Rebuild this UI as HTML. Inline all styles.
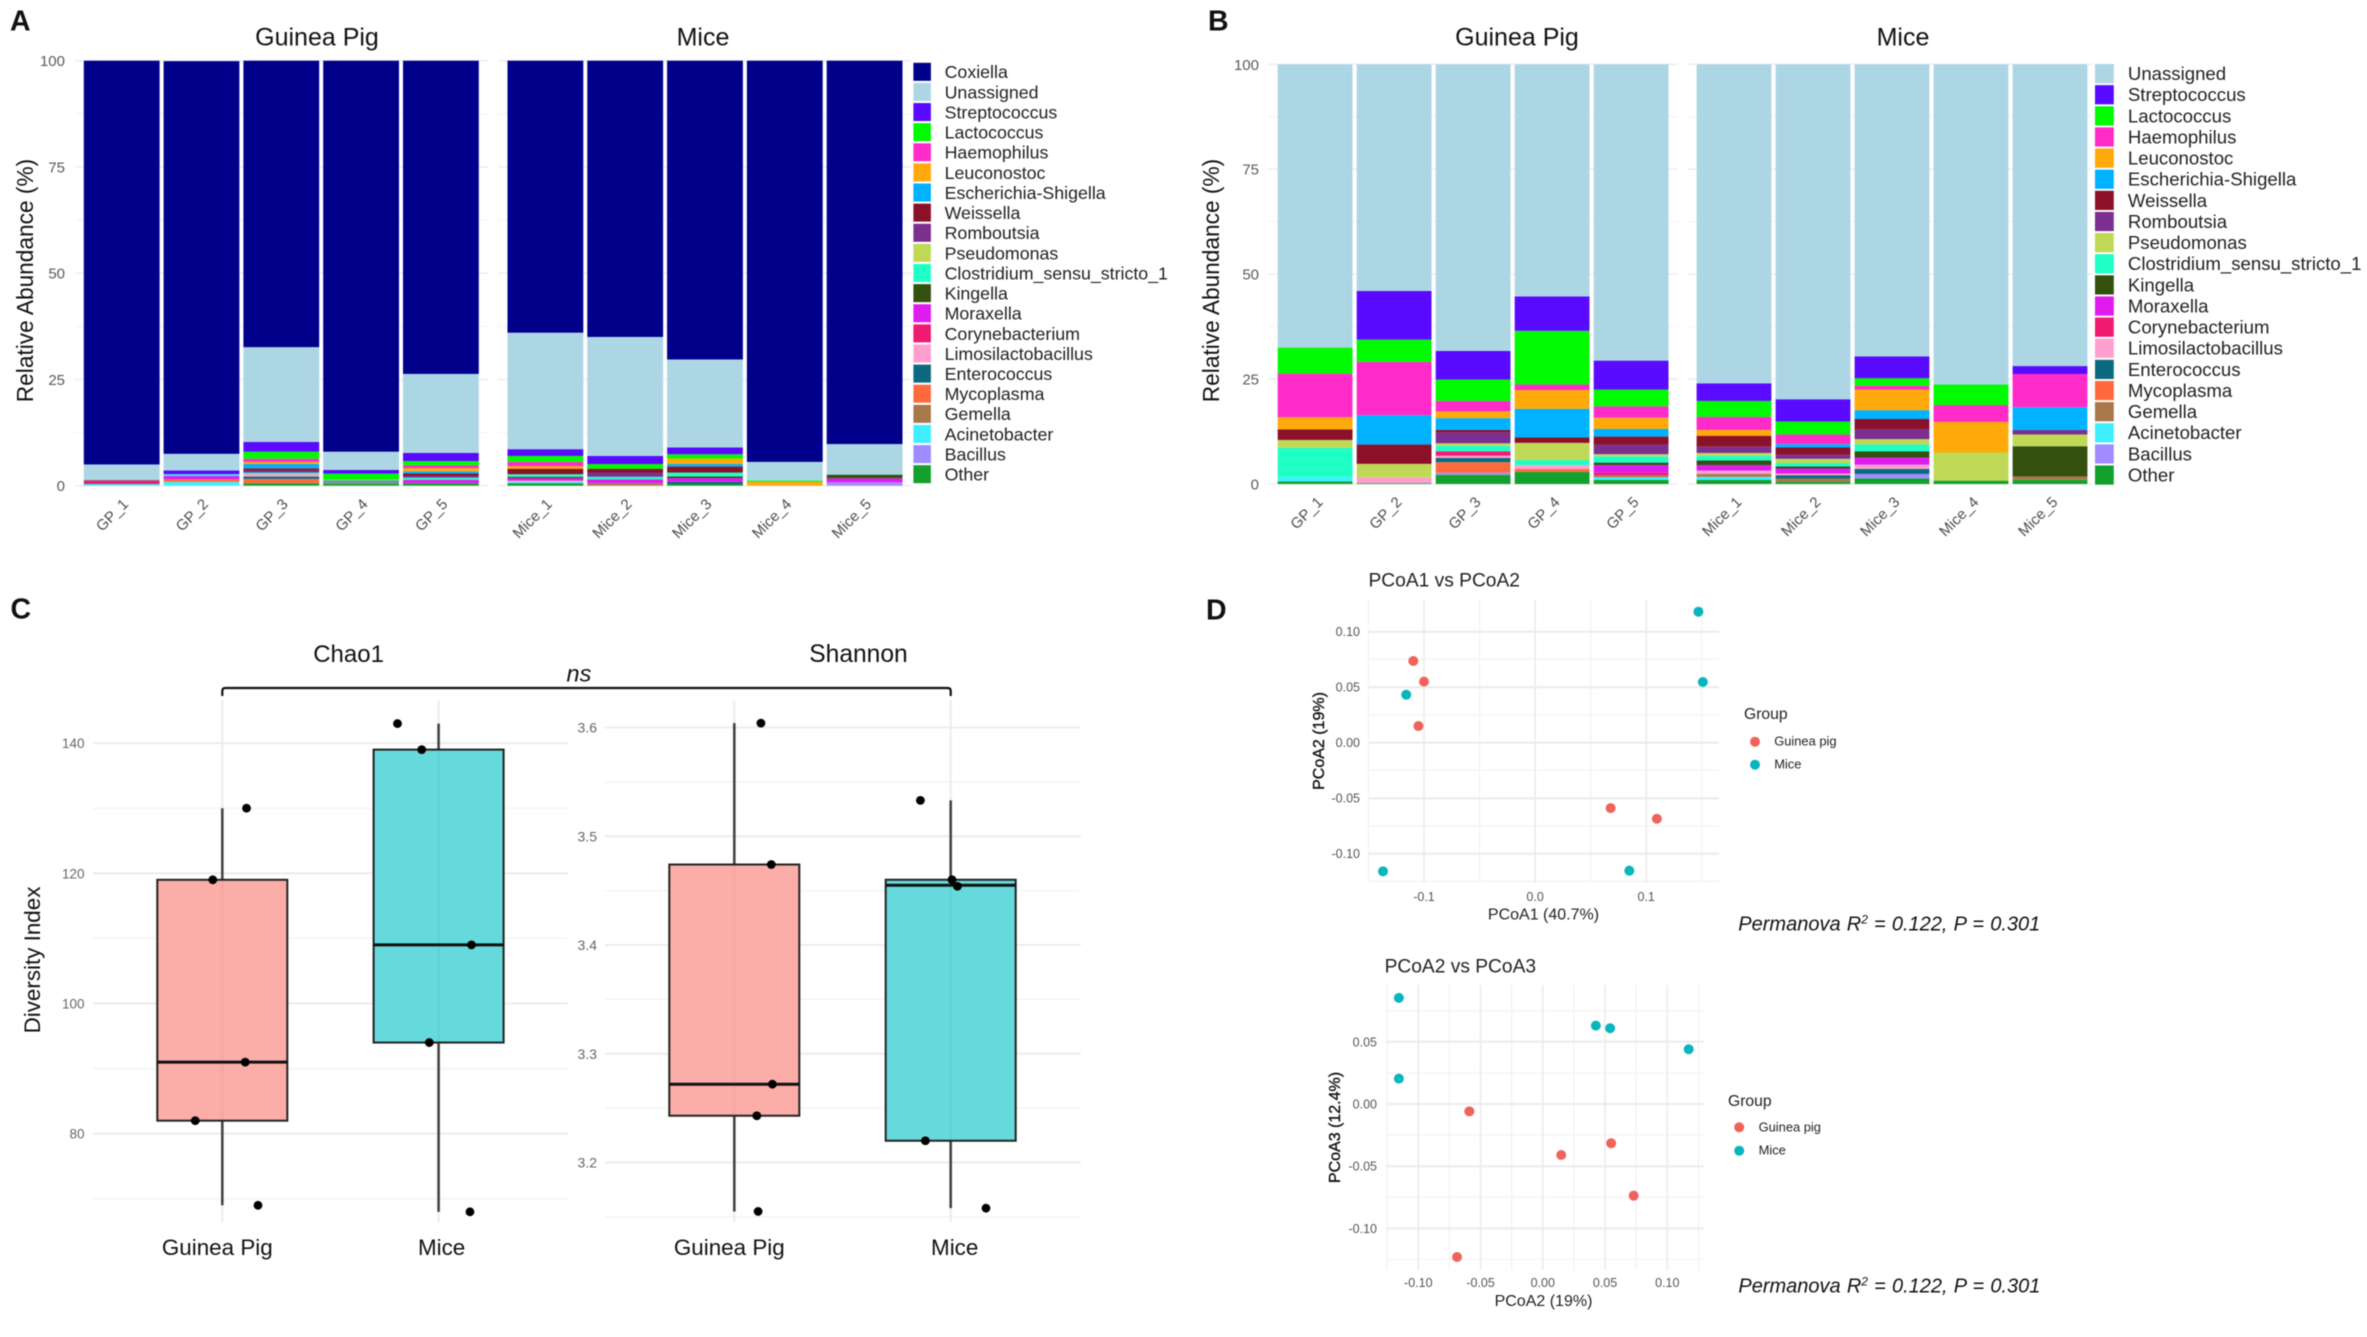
<!DOCTYPE html>
<html lang="en">
<head>
<meta charset="utf-8">
<title>Microbiome composition, diversity and PCoA panels</title>
<style>
html,body{margin:0;padding:0;background:#fff;width:2367px;height:1337px;overflow:hidden}
svg{display:block;font-family:"Liberation Sans",Arial,sans-serif;filter:blur(0.5px)}
</style>
</head>
<body>
<svg id="figure" xmlns="http://www.w3.org/2000/svg" width="2367" height="1337" viewBox="0 0 2367 1337">
  <rect width="2367" height="1337" fill="#fff"/>

  <text x="10" y="30.5" font-size="28.5" font-weight="bold" fill="#111">A</text>
  <text x="1208" y="30.5" font-size="28.5" font-weight="bold" fill="#111">B</text>
  <text x="10.5" y="618.6" font-size="28.5" font-weight="bold" fill="#111">C</text>
  <text x="1206" y="619.3" font-size="28.5" font-weight="bold" fill="#111">D</text>

  <g id="panelA"></g>
  <text x="317" y="45.7" font-size="25" text-anchor="middle" fill="#111">Guinea Pig</text>
  <text x="703" y="45.7" font-size="25" text-anchor="middle" fill="#111">Mice</text>
  <text transform="translate(33 280.5) rotate(-90)" font-size="22.7" text-anchor="middle" fill="#111">Relative Abundance (%)</text>

  <g id="panelB"></g>
  <text x="1517" y="45.7" font-size="25" text-anchor="middle" fill="#111">Guinea Pig</text>
  <text x="1903" y="45.7" font-size="25" text-anchor="middle" fill="#111">Mice</text>
  <text transform="translate(1219 280.5) rotate(-90)" font-size="22.7" text-anchor="middle" fill="#111">Relative Abundance (%)</text>

  <g id="panelC"></g>
  <text x="348.6" y="661.8" font-size="24" text-anchor="middle" fill="#111">Chao1</text>
  <text x="858.5" y="661.8" font-size="24.6" text-anchor="middle" fill="#111">Shannon</text>
  <text transform="translate(40 960) rotate(-90)" font-size="22.4" text-anchor="middle" fill="#111">Diversity Index</text>
  <path d="M222.3 696 V691 Q222.3 688 225.3 688 H947.7 Q950.7 688 950.7 691 V696" fill="none" stroke="#111" stroke-width="2.2"/>
  <text x="566.5" y="681.5" font-size="23.5" font-style="italic" fill="#111">ns</text>

  <g id="panelD1"></g>
  <text x="1368.5" y="586.7" font-size="19.2" fill="#222">PCoA1 vs PCoA2</text>
  <text x="1543.5" y="919.5" font-size="16" text-anchor="middle" fill="#222">PCoA1 (40.7%)</text>
  <text transform="translate(1324 741) rotate(-90)" font-size="16" text-anchor="middle" fill="#111" stroke="#111" stroke-width="0.35">PCoA2 (19%)</text>
  <text x="1744" y="719" font-size="15.7" fill="#222">Group</text>
  <circle cx="1755" cy="741.7" r="5" fill="#F0635C"/>
  <text x="1774.2" y="745.7" font-size="12.9" fill="#222">Guinea pig</text>
  <circle cx="1755" cy="764.7" r="5" fill="#06B6BC"/>
  <text x="1774.2" y="768.7" font-size="12.9" fill="#222">Mice</text>
  <text x="1738.3" y="930.7" font-size="20" font-style="italic" word-spacing="0.6" fill="#111">Permanova R<tspan dy="-7" font-size="12">2</tspan><tspan dy="7"> = 0.122, P = 0.301</tspan></text>

  <g id="panelD2"></g>
  <text x="1384.6" y="972.7" font-size="19.2" fill="#222">PCoA2 vs PCoA3</text>
  <text x="1543.5" y="1306" font-size="16" text-anchor="middle" fill="#222">PCoA2 (19%)</text>
  <text transform="translate(1340 1127.5) rotate(-90)" font-size="16" text-anchor="middle" fill="#111" stroke="#111" stroke-width="0.35">PCoA3 (12.4%)</text>
  <text x="1728" y="1106" font-size="15.7" fill="#222">Group</text>
  <circle cx="1739.2" cy="1127.3" r="5" fill="#F0635C"/>
  <text x="1758.6" y="1131.7" font-size="12.9" fill="#222">Guinea pig</text>
  <circle cx="1739.2" cy="1150.7" r="5" fill="#06B6BC"/>
  <text x="1758.6" y="1154.7" font-size="12.9" fill="#222">Mice</text>
  <text x="1738.4" y="1292.7" font-size="20" font-style="italic" word-spacing="0.6" fill="#111">Permanova R<tspan dy="-7" font-size="12">2</tspan><tspan dy="7"> = 0.122, P = 0.301</tspan></text>
</svg>

<script>
/* ---------- shared categories ---------- */
const samples = ['GP_1','GP_2','GP_3','GP_4','GP_5','Mice_1','Mice_2','Mice_3','Mice_4','Mice_5'];
const abundanceTicks = [0,25,50,75,100];
const abundanceMinorTicks = [12.5,37.5,62.5,87.5];
const generaA = ['Coxiella','Unassigned','Streptococcus','Lactococcus','Haemophilus','Leuconostoc','Escherichia-Shigella','Weissella','Romboutsia','Pseudomonas','Clostridium_sensu_stricto_1','Kingella','Moraxella','Corynebacterium','Limosilactobacillus','Enterococcus','Mycoplasma','Gemella','Acinetobacter','Bacillus','Other'];
const generaB = generaA.slice(1);

/* ---------- panel A values: one array per genus, one value per sample ---------- */
const aCoxiella      = [95,92.4,67.4,92,73.7,64,65,70.3,94.4,90.2];
const aUnassigned    = [3.5,3.9,22.3,4.3,18.6,27.4,28,20.7,4.4,7.2];
const aStreptococcus = [0,0.9,2.3,0.85,1.9,1.6,1.9,1.6,0,0];
const aLactococcus   = [0,0,1.65,1.4,1,1.4,1.1,1,0.3,0];
const aHaemophilus   = [0,0,0.75,0,0.65,1,0,0,0,0];
const aLeuconostoc   = [0,0,0.5,0.2,0.75,0.6,0,1.3,0.9,0];
const aEscherichia   = [0,0,1,0.45,0.5,0,0,0.6,0,0];
const aWeissella     = [0,0,0.5,0,0.5,1.3,0.9,1.4,0,0];
const aRomboutsia    = [0,0,0.5,0,0.5,0,1,0,0,0];
const aPseudomonas   = [0,0,0,0,0,0,0,0,0,0];
const aClostridium   = [0.2,0.4,0.35,0,0.5,0.6,0.6,0.9,0,0];
const aKingella      = [0,0,0,0,0,0.3,0,0.4,0,0.85];
const aMoraxella     = [0,0.8,0,0,0.8,0.6,0.9,0.9,0,0.95];
const aCorynebact    = [0.9,0,0,0,0,0,0,0,0,0];
const aLimosilacto   = [0,0,0.6,0,0,0.3,0,0,0,0];
const aEnterococcus  = [0,0,0.55,0,0,0,0,0.5,0,0];
const aMycoplasma    = [0,0.6,1,0,0,0,0,0,0,0];
const aGemella       = [0,0,0,0.35,0,0,0.6,0,0,0];
const aAcinetobacter = [0.4,0.9,0,0,0,0.3,0,0,0,0];
const aBacillus      = [0,0,0,0,0,0,0,0,0,0.8];
const aOther         = [0,0,0.6,0.45,0.6,0.6,0,0.4,0,0];

/* ---------- panel B values ---------- */
const bUnassigned    = [67.5,54,68.3,55.3,70.6,76,79.8,69.6,76.3,71.9];
const bStreptococcus = [0,11.6,6.8,8.2,6.9,4.2,5.3,5.2,0,1.9];
const bLactococcus   = [6.2,5.3,5.1,12.8,4,3.8,3.1,1.8,4.9,0];
const bHaemophilus   = [10.4,12.7,2.5,1.3,2.7,3.1,2.3,0.9,4,7.9];
const bLeuconostoc   = [2.9,0,1.6,4.5,2.7,1.4,0,4.9,7.3,0];
const bEscherichia   = [0,7,2.8,6.8,1.8,0,0.8,2.1,0,5.4];
const bWeissella     = [2.5,4.6,0.6,1.3,1.9,2.6,1.7,2.4,0,0];
const bRomboutsia    = [0,0,2.6,0,2.3,1.5,1,2.4,0,1.1];
const bPseudomonas   = [1.9,3.2,0.6,4.1,0.5,0.7,1,1.3,6.7,2.8];
const bClostridium   = [7,0,1.3,1.2,1.5,1.1,0.8,1.6,0,0];
const bKingella      = [0,0,0,0,0.6,1.1,0.5,1.5,0,7.2];
const bMoraxella     = [0,0,0,0,1.8,1.3,1.2,1.7,0,0];
const bCorynebact    = [0,0,1.05,0,0.6,0,0,0,0,0];
const bLimosilacto   = [0,1.4,0.55,0.9,0,0.8,0.4,1,0,0];
const bEnterococcus  = [0,0,1,0,0,0,0.8,1.2,0,0];
const bMycoplasma    = [0,0,2.5,0.7,0,0,0,0,0,0];
const bGemella       = [0,0,0,0,0.5,0.7,0.8,0,0,0.8];
const bAcinetobacter = [1,0,0,0,0.6,0.7,0,0,0,0];
const bBacillus      = [0,0,0.5,0,0,0,0,1.05,0,0];
const bOther         = [0.6,0.2,2.2,2.9,1,1,0.5,1.35,0.8,1];

/* ---------- panel C values ---------- */
const boxGroups = ['Guinea Pig','Mice'];
const chaoTicks = [80,100,120,140];
const chaoMinorTicks = [70,90,110,130];
const chaoLow = [69,68];
const chaoQ1 = [82,94];
const chaoMedian = [91,109];
const chaoQ3 = [119,139];
const chaoHigh = [130,143];
const chaoPointPos = [1.112,0.956,1.106,0.875,1.165,1.81,1.922,2.152,1.957,2.145];
const chaoPointVal = [130,119,91,82,69,143,139,109,94,68];
const shannonTicks = [3.2,3.3,3.4,3.5,3.6];
const shannonMinorTicks = [3.15,3.25,3.35,3.45,3.55];
const shannonLow = [3.155,3.158];
const shannonQ1 = [3.243,3.22];
const shannonMedian = [3.272,3.455];
const shannonQ3 = [3.474,3.46];
const shannonHigh = [3.604,3.533];
const shannonPointPos = [1.123,1.171,1.176,1.104,1.11,1.86,2.006,2.031,1.883,2.163];
const shannonPointVal = [3.604,3.474,3.272,3.243,3.155,3.533,3.46,3.454,3.22,3.158];

/* ---------- panel D values ---------- */
const d1XTicks = [-0.1,0,0.1];
const d1XMinor = [-0.15,-0.05,0.05,0.15];
const d1YTicks = [-0.10,-0.05,0,0.05,0.10];
const d1YMinor = [-0.125,-0.075,-0.025,0.025,0.075];
const d1GuineaX = [-0.1096,-0.1,-0.105,0.068,0.1096];
const d1GuineaY = [0.0736,0.055,0.015,-0.0589,-0.0685];
const d1MiceX = [0.147,0.151,-0.116,-0.1369,0.0848];
const d1MiceY = [0.118,0.0547,0.0432,-0.1159,-0.1153];
const d2XTicks = [-0.10,-0.05,0,0.05,0.10];
const d2XMinor = [-0.125,-0.075,-0.025,0.025,0.075,0.125];
const d2YTicks = [-0.10,-0.05,0,0.05];
const d2YMinor = [-0.125,-0.075,-0.025,0.025,0.075];
const d2GuineaX = [-0.059,0.0148,0.0549,0.073,-0.0689];
const d2GuineaY = [-0.0059,-0.041,-0.0316,-0.0737,-0.123];
const d2MiceX = [-0.1156,-0.1156,0.0426,0.0541,0.1172];
const d2MiceY = [0.0853,0.0204,0.063,0.0609,0.044];

const seriesA = [aCoxiella,aUnassigned,aStreptococcus,aLactococcus,aHaemophilus,aLeuconostoc,aEscherichia,aWeissella,aRomboutsia,aPseudomonas,aClostridium,aKingella,aMoraxella,aCorynebact,aLimosilacto,aEnterococcus,aMycoplasma,aGemella,aAcinetobacter,aBacillus,aOther];
const seriesB = [bUnassigned,bStreptococcus,bLactococcus,bHaemophilus,bLeuconostoc,bEscherichia,bWeissella,bRomboutsia,bPseudomonas,bClostridium,bKingella,bMoraxella,bCorynebact,bLimosilacto,bEnterococcus,bMycoplasma,bGemella,bAcinetobacter,bBacillus,bOther];

const genusColors = {
  'Coxiella':'#00008B','Unassigned':'#ADD6E4','Streptococcus':'#5A0BFF','Lactococcus':'#00FA00',
  'Haemophilus':'#FF2BC8','Leuconostoc':'#FFAA0A','Escherichia-Shigella':'#00B2FF','Weissella':'#8B1128',
  'Romboutsia':'#7B2F8F','Pseudomonas':'#BFD956','Clostridium_sensu_stricto_1':'#1EFFC6','Kingella':'#33500F',
  'Moraxella':'#E01BF0','Corynebacterium':'#F01A70','Limosilactobacillus':'#FF9FCF','Enterococcus':'#0B6A80',
  'Mycoplasma':'#FF6A3D','Gemella':'#A8784A','Acinetobacter':'#40EFFF','Bacillus':'#A08CFF','Other':'#14A02C'
};

const NS = 'http://www.w3.org/2000/svg';
function mk(tag, attrs, parent, text) {
  const el = document.createElementNS(NS, tag);
  for (const k in attrs) el.setAttribute(k, attrs[k]);
  if (text !== undefined) el.textContent = text;
  parent.appendChild(el);
  return el;
}
function slug(s) { return String(s).toLowerCase().replace(/[^a-z0-9]+/g, '-'); }

/* ---------- stacked bar panels ---------- */
function drawStack(root, series, genera, g) {
  const yScale = v => g.y0 - v * (g.y0 - g.y100) / 100;
  const xScale = i => i < 5 ? g.gpStart + i * g.step : g.miceStart + (i - 5) * g.step;

  [[g.gpGrid0, g.gpGrid1], [g.miceGrid0, g.miceGrid1]].forEach(function (range) {
    abundanceMinorTicks.forEach(function (t) {
      const line = mk('line', {x1: range[0], x2: range[1], y1: yScale(t), y2: yScale(t), stroke: '#f5f5f5', 'stroke-width': 1.2}, root);
      
      
    });
    abundanceTicks.forEach(function (t) {
      const line = mk('line', {x1: range[0], x2: range[1], y1: yScale(t), y2: yScale(t), stroke: '#eeeeee', 'stroke-width': 1.6}, root);
      
      
    });
  });

  abundanceTicks.forEach(function (t) {
    const label = mk('text', {x: g.tickRight, y: yScale(t) + 5.5, 'font-size': 15, 'text-anchor': 'end', fill: '#5a5a5a'}, root, String(t));
    
    
  });

  samples.forEach(function (sample, i) {
    let cumulative = 0;
    for (let s = series.length - 1; s >= 0; s--) {
      const v = series[s][i];
      if (!v) continue;
      const top = yScale(cumulative + v);
      const bottom = yScale(cumulative);
      const seg = mk('rect', {x: xScale(i), y: top, width: g.barWidth, height: bottom - top, fill: genusColors[genera[s]]}, root);
      
      
      cumulative += v;
    }
    const cx = xScale(i) + g.barWidth / 2;
    const lx = cx + g.labelDx;
    const tick = mk('text', {transform: 'translate(' + lx + ' ' + g.labelY + ') rotate(-45)', 'font-size': 15, 'text-anchor': 'end', fill: '#4f4f4f'}, root, sample);
    
    
  });

  genera.forEach(function (name, i) {
    const cy = g.legendY + i * g.legendStep;
    const swatch = mk('rect', {x: g.legendX, y: cy - g.swatchH / 2, width: g.swatchW, height: g.swatchH, fill: genusColors[name]}, root);
    
    
    const label = mk('text', {x: g.legendTextX, y: cy + 6.4, 'font-size': g.legendFont, fill: '#222'}, root, name);
    
    
  });
}

drawStack(document.getElementById('panelA'), seriesA, generaA, {
  y0: 485.7, y100: 60.7, gpStart: 83.8, miceStart: 507.5, step: 79.8, barWidth: 75.8,
  gpGrid0: 75, gpGrid1: 488, miceGrid0: 498, miceGrid1: 911, tickRight: 65, labelDx: 7.5, labelY: 505,
  legendX: 913.4, legendY: 71.8, legendStep: 20.12, swatchW: 17.5, swatchH: 18, legendTextX: 944.6, legendFont: 17.8
});
drawStack(document.getElementById('panelB'), seriesB, generaB, {
  y0: 484, y100: 64.3, gpStart: 1277.7, miceStart: 1696.6, step: 79, barWidth: 74.8,
  gpGrid0: 1268, gpGrid1: 1678, miceGrid0: 1688, miceGrid1: 2092, tickRight: 1259, labelDx: 8.5, labelY: 503,
  legendX: 2095, legendY: 73.6, legendStep: 21.13, swatchW: 18.8, swatchH: 19.2, legendTextX: 2127.9, legendFont: 18.6
});

/* ---------- box plot panels ---------- */
const boxFill = ['#F8766D', '#00BFC4'];
function drawBox(root, d, g) {
  const y = g.yScale;
  const x = p => g.x1 + (p - 1) * g.step;
  d.minor.forEach(function (t) {
    const line = mk('line', {x1: g.left, x2: g.right, y1: y(t), y2: y(t), stroke: '#f4f4f4', 'stroke-width': 1.5}, root);
    
    
  });
  d.ticks.forEach(function (t) {
    const line = mk('line', {x1: g.left, x2: g.right, y1: y(t), y2: y(t), stroke: '#ececec', 'stroke-width': 2}, root);
    
    
    const label = mk('text', {x: g.tickRight, y: y(t) + 5, 'font-size': g.tickFont, 'text-anchor': 'end', fill: '#666'}, root, g.fmt(t));
    
    
  });
  boxGroups.forEach(function (group, i) {
    const cx = x(i + 1);
    const grid = mk('line', {x1: cx, x2: cx, y1: 700, y2: 1222, stroke: '#ececec', 'stroke-width': 2}, root);
    
    
    const whisker = mk('line', {x1: cx, x2: cx, y1: y(d.high[i]), y2: y(d.low[i]), stroke: '#444', 'stroke-width': 2.6}, root);
    
    
    const bgBox = mk('rect', {x: cx - g.boxW / 2, y: y(d.q3[i]), width: g.boxW, height: y(d.q1[i]) - y(d.q3[i]), fill: '#fff'}, root);
    
    
    const inner = mk('line', {x1: cx, x2: cx, y1: y(d.q3[i]), y2: y(d.q1[i]), stroke: '#ececec', 'stroke-width': 2}, root);
    
    
    const box = mk('rect', {x: cx - g.boxW / 2, y: y(d.q3[i]), width: g.boxW, height: y(d.q1[i]) - y(d.q3[i]), fill: boxFill[i], 'fill-opacity': 0.6, stroke: '#222', 'stroke-width': 2}, root);
    
    
    const median = mk('line', {x1: cx - g.boxW / 2, x2: cx + g.boxW / 2, y1: y(d.median[i]), y2: y(d.median[i]), stroke: '#111', 'stroke-width': 3}, root);
    
    
    const label = mk('text', {x: cx + g.labelDx[i], y: 1255, 'font-size': 22.4, 'text-anchor': 'middle', fill: '#111'}, root, group);
    
    
  });
  d.pos.forEach(function (p, i) {
    const dot = mk('circle', {cx: x(p), cy: y(d.val[i]), r: 4.4, fill: '#000'}, root);
    
    
  });
}
const panelC = document.getElementById('panelC');
drawBox(panelC,
  {ticks: chaoTicks, minor: chaoMinorTicks, low: chaoLow, q1: chaoQ1, median: chaoMedian, q3: chaoQ3, high: chaoHigh, pos: chaoPointPos, val: chaoPointVal},
  {name: 'chao1', yScale: v => 1003.5 - (v - 100) * 6.51, x1: 222.3, step: 216.3, boxW: 130, left: 93, right: 568, tickRight: 84.5, tickFont: 13.5, fmt: t => String(t), labelDx: [-5, 3]});
drawBox(panelC,
  {ticks: shannonTicks, minor: shannonMinorTicks, low: shannonLow, q1: shannonQ1, median: shannonMedian, q3: shannonQ3, high: shannonHigh, pos: shannonPointPos, val: shannonPointVal},
  {name: 'shannon', yScale: v => 945 - (v - 3.4) * 1087.5, x1: 734.3, step: 216.4, boxW: 130, left: 605, right: 1080.7, tickRight: 597, tickFont: 14, fmt: t => t.toFixed(1), labelDx: [-5, 4]});

/* ---------- PCoA scatter panels ---------- */
function drawScatter(root, d, g) {
  const x = v => g.x0 + v * g.xUnit;
  const y = v => g.y0 - v * g.yUnit;
  d.yMinor.forEach(function (t) {
    const line = mk('line', {x1: g.left, x2: g.right, y1: y(t), y2: y(t), stroke: '#f3f3f3', 'stroke-width': 1.3}, root);
    
    
  });
  d.xMinor.forEach(function (t) {
    const line = mk('line', {x1: x(t), x2: x(t), y1: g.top, y2: g.bottom, stroke: '#f3f3f3', 'stroke-width': 1.3}, root);
    
    
  });
  d.yTicks.forEach(function (t) {
    const line = mk('line', {x1: g.left, x2: g.right, y1: y(t), y2: y(t), stroke: '#ebebeb', 'stroke-width': 2}, root);
    
    
    const label = mk('text', {x: g.tickRight, y: y(t) + 4.5, 'font-size': 12.5, 'text-anchor': 'end', fill: '#555'}, root, t.toFixed(2));
    
    
  });
  d.xTicks.forEach(function (t) {
    const line = mk('line', {x1: x(t), x2: x(t), y1: g.top, y2: g.bottom, stroke: '#ebebeb', 'stroke-width': 1.6}, root);
    
    
    const label = mk('text', {x: x(t), y: g.xLabelY, 'font-size': 12.5, 'text-anchor': 'middle', fill: '#555'}, root, t.toFixed(g.xDigits));
    
    
  });
  d.gx.forEach(function (v, i) {
    const dot = mk('circle', {cx: x(v), cy: y(d.gy[i]), r: 5, fill: '#F0635C'}, root);
    
    
  });
  d.mx.forEach(function (v, i) {
    const dot = mk('circle', {cx: x(v), cy: y(d.my[i]), r: 5, fill: '#06B6BC'}, root);
    
    
  });
}
drawScatter(document.getElementById('panelD1'),
  {xTicks: d1XTicks, xMinor: d1XMinor, yTicks: d1YTicks, yMinor: d1YMinor, gx: d1GuineaX, gy: d1GuineaY, mx: d1MiceX, my: d1MiceY},
  {name: 'd1', x0: 1535.1, xUnit: 1111, y0: 742.7, yUnit: 1110, left: 1368.5, right: 1719, top: 599.3, bottom: 882.7, tickRight: 1360, xLabelY: 901, xDigits: 1});
drawScatter(document.getElementById('panelD2'),
  {xTicks: d2XTicks, xMinor: d2XMinor, yTicks: d2YTicks, yMinor: d2YMinor, gx: d2GuineaX, gy: d2GuineaY, mx: d2MiceX, my: d2MiceY},
  {name: 'd2', x0: 1542.8, xUnit: 1245, y0: 1104, yUnit: 1244, left: 1386, right: 1703.5, top: 985, bottom: 1270, tickRight: 1377, xLabelY: 1287, xDigits: 2});
</script>
</body>
</html>
